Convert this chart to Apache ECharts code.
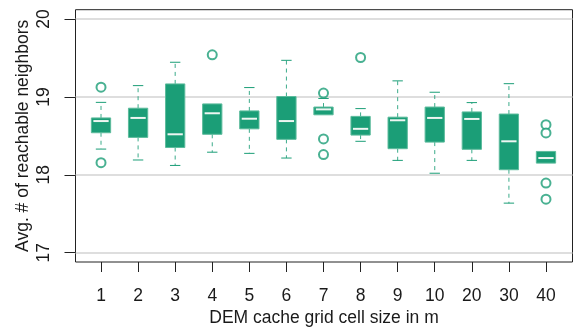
<!DOCTYPE html>
<html>
<head>
<meta charset="utf-8">
<script src="https://cdn.jsdelivr.net/npm/echarts@6/dist/echarts.min.js"></script>
<style>html,body{margin:0;padding:0;background:#fff}#c{width:575px;height:327px}</style>
</head>
<body>
<div id="c"></div>
<script>
// Categories (x positions 1..13)
const categories = ['1','2','3','4','5','6','7','8','9','10','20','30','40'];
// Box statistics per category: lower whisker, Q1, median, Q3, upper whisker
const lowerWhisker = [18.33, 18.19, 18.12, 18.29, 18.275, 18.215, 18.77, 18.43, 18.185, 18.02, 18.185, 17.636, 18.15];
const q1Values     = [18.54, 18.48, 18.35, 18.52, 18.59, 18.455, 18.77, 18.51, 18.335, 18.42, 18.327, 18.065, 18.15];
const medianValues = [18.69, 18.73, 18.52, 18.79, 18.72, 18.69, 18.84, 18.59, 18.70, 18.73, 18.717, 18.43, 18.215];
const q3Values     = [18.73, 18.855, 19.167, 18.91, 18.82, 19.005, 18.87, 18.75, 18.74, 18.87, 18.807, 18.78, 18.30];
const upperWhisker = [18.93, 19.145, 19.445, 18.91, 19.12, 19.47, 18.98, 18.85, 19.206, 19.06, 18.927, 19.17, 18.30];
// Outliers: [category position, value]
const outlierPos   = [1, 1, 4, 7, 7, 7, 8, 13, 13, 13, 13];
const outlierVals  = [19.125, 18.155, 19.54, 19.05, 18.46, 18.26, 19.506, 18.644, 18.537, 17.893, 17.687];
// Axis ticks
const yTicks = [17, 18, 19, 20];
const xTicks = [1,2,3,4,5,6,7,8,9,10,11,12,13];

const GREEN = '#1B9E77';
const boxData = categories.map((c, i) => [i + 1, lowerWhisker[i], q1Values[i], medianValues[i], q3Values[i], upperWhisker[i]]);
const outlierData = outlierPos.map((p, i) => [p, outlierVals[i]]);

function renderBox(params, api) {
  const x = api.value(0);
  const lo = api.value(1), q1 = api.value(2), med = api.value(3), q3 = api.value(4), hi = api.value(5);
  const c = v => api.coord([x, v]);
  const half = api.size([0.26, 0])[0];
  const cap = api.size([0.14, 0])[0];
  const px = c(med)[0];
  const yLo = c(lo)[1], yQ1 = c(q1)[1], yMed = c(med)[1], yQ3 = c(q3)[1], yHi = c(hi)[1];
  const children = [];
  const dash = {stroke: GREEN, lineWidth: 1, lineDash: [4, 4], opacity: 0.85};
  if (yHi < yQ3 - 0.5) {
    children.push({type: 'line', shape: {x1: px, y1: yQ3, x2: px, y2: yHi}, style: dash});
    children.push({type: 'line', shape: {x1: px - cap, y1: yHi, x2: px + cap, y2: yHi}, style: {stroke: GREEN, lineWidth: 1}});
  }
  if (yLo > yQ1 + 0.5) {
    children.push({type: 'line', shape: {x1: px, y1: yQ1, x2: px, y2: yLo}, style: dash});
    children.push({type: 'line', shape: {x1: px - cap, y1: yLo, x2: px + cap, y2: yLo}, style: {stroke: GREEN, lineWidth: 1}});
  }
  children.push({type: 'rect', shape: {x: px - half, y: yQ3, width: 2 * half, height: yQ1 - yQ3},
    style: {fill: GREEN, stroke: '#5cbb9c', lineWidth: 1}});
  children.push({type: 'line', shape: {x1: px - half + 2, y1: yMed, x2: px + half - 2, y2: yMed},
    style: {stroke: '#eef6f2', lineWidth: 2}});
  return {type: 'group', children};
}

const chart = echarts.init(document.getElementById('c'), null, {renderer: 'canvas'});
const FONT = 'Liberation Sans';
const FS = 17.5;
chart.setOption({
  animation: false,
  backgroundColor: '#fff',
  grid: {left: 75.5, right: 2.5, top: 9.7, bottom: 65, containLabel: false, outerBoundsMode: 'none',
    show: true, borderColor: '#222', borderWidth: 1, backgroundColor: 'transparent'},
  xAxis: {
    type: 'value', min: 0.312, max: 13.715,
    axisLine: {show: false},
    axisTick: {show: true, customValues: xTicks, length: 10, lineStyle: {color: '#222'}},
    axisLabel: {show: true, customValues: xTicks, margin: 25, fontFamily: FONT, fontSize: FS, color: '#1a1a1a',
      formatter: v => categories[Math.round(v) - 1]},
    splitLine: {show: false},
    name: 'DEM cache grid cell size in m', nameLocation: 'middle', nameGap: 47.5, nameMoveOverlap: false,
    nameTextStyle: {fontFamily: FONT, fontSize: FS, color: '#1a1a1a'}
  },
  yAxis: {
    type: 'value', min: 16.88, max: 20.12,
    axisLine: {show: false},
    axisTick: {show: true, customValues: yTicks, length: 11, lineStyle: {color: '#222'}},
    axisLabel: {show: true, customValues: yTicks, rotate: 90, margin: 22, fontFamily: FONT, fontSize: FS, color: '#1a1a1a'},
    splitLine: {show: true, lineStyle: {color: '#d3d3d3', width: 1.5}},
    name: 'Avg. # of reachable neighbors', nameLocation: 'middle', nameGap: 43, nameRotate: 90, nameMoveOverlap: false,
    nameTextStyle: {fontFamily: FONT, fontSize: FS, color: '#1a1a1a'}
  },
  series: [
    {type: 'custom', renderItem: renderBox, data: boxData, encode: {x: 0, y: [1, 2, 3, 4, 5]}, z: 3},
    {type: 'scatter', data: outlierData, symbol: 'emptyCircle', symbolSize: 9,
      itemStyle: {color: GREEN, borderWidth: 1}, z: 4}
  ]
});
</script>
</body>
</html>
